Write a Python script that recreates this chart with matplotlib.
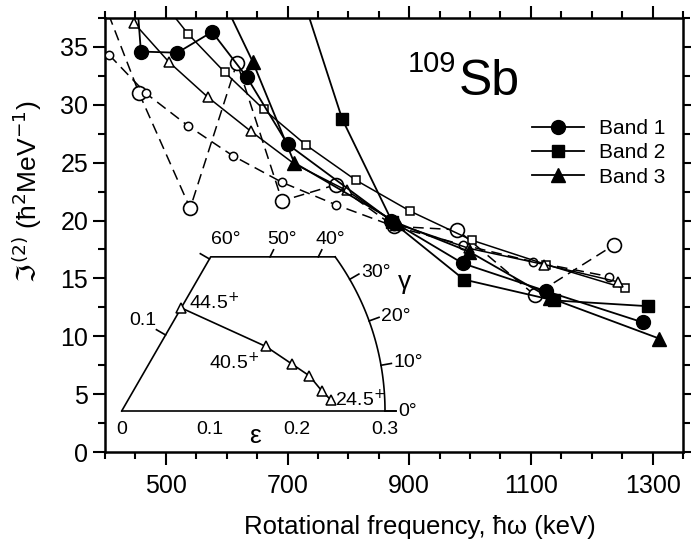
import numpy as np
import matplotlib.pyplot as plt
from matplotlib.ticker import MultipleLocator, FixedLocator

plt.rcParams['font.family'] = ['Liberation Sans', 'DejaVu Sans']
plt.rcParams['mathtext.fontset'] = 'dejavusans'

# experimental bands (filled symbols, solid lines)
band1_w = [452, 459, 519, 576, 633, 700, 870, 988, 1125, 1284]
band1_j = [39.5, 34.6, 34.5, 36.3, 32.4, 26.6, 20.0, 16.3, 13.9, 11.2]
band2_w = [705, 790, 872, 990, 1138, 1292]
band2_j = [42.5, 28.75, 19.9, 14.9, 13.1, 12.6]
band3_w = [580, 643, 711, 880, 999, 1132, 1311]
band3_j = [40.6, 33.7, 25.0, 19.8, 17.3, 13.3, 9.8]

# calculations (open symbols)
sq_w = [490, 537, 597, 661, 731, 812, 902, 1003, 1125, 1254]
sq_j = [39.2, 36.1, 32.8, 29.6, 26.5, 23.5, 20.8, 18.3, 16.2, 14.15]
tri_w = [448, 505, 569, 640, 711, 797, 880, 998, 1122, 1243]
tri_j = [37.05, 33.7, 30.66, 27.7, 24.9, 22.6, 19.7, 17.6, 16.2, 14.7]
small_w = [407, 467, 536, 610, 691, 780, 875, 988, 1103, 1229]
small_j = [34.3, 31.0, 28.2, 25.6, 23.3, 21.35, 19.5, 17.9, 16.45, 15.15]
big_w = [395, 456, 540, 617, 691, 780, 875, 979, 1106, 1237]
big_j = [39.3, 31.0, 21.06, 33.65, 21.7, 23.1, 19.5, 19.2, 13.57, 17.9]

# inset: deformation path in the (eps, gamma) plane
path_eps = [0.1356, 0.180, 0.201, 0.2176, 0.229, 0.2387]
path_gam = [60.0, 24.1, 15.5, 10.6, 5.8, 3.0]
spin_labels = {0: '44.5$^{+}$', 1: '40.5$^{+}$', 5: '24.5$^{+}$'}

EPS_MAX = 0.3
TOP_Y = 0.1756

fig = plt.figure(figsize=(6.91, 5.42), dpi=100)
ax = fig.add_axes([105 / 691, 90 / 542, 578 / 691, 434 / 542])

dash = (0, (7, 4))
ax.plot(big_w, big_j, ls=dash, color='k', lw=1.1, marker='o', ms=10,
        mfc='white', mec='k', mew=1.2, zorder=3)
ax.plot(small_w, small_j, ls=dash, color='k', lw=1.1, marker='o', ms=6,
        mfc='white', mec='k', mew=1.1, zorder=3)
ax.plot(sq_w, sq_j, ls='-', color='k', lw=1.1, marker='s', ms=5.5,
        mfc='white', mec='k', mew=1.1, zorder=3)
ax.plot(tri_w, tri_j, ls='-', color='k', lw=1.1, marker='^', ms=6.5,
        mfc='white', mec='k', mew=1.1, zorder=3)

h1, = ax.plot(band1_w, band1_j, '-', color='k', lw=1.3, marker='o', ms=10,
              label='Band 1', zorder=4)
h2, = ax.plot(band2_w, band2_j, '-', color='k', lw=1.3, marker='s', ms=9,
              label='Band 2', zorder=4)
h3, = ax.plot(band3_w, band3_j, '-', color='k', lw=1.3, marker='^', ms=10,
              label='Band 3', zorder=4)

ax.set_xlim(400, 1350)
ax.set_ylim(0, 37.5)
ax.xaxis.set_major_locator(FixedLocator([500, 700, 900, 1100, 1300]))
ax.xaxis.set_minor_locator(MultipleLocator(50))
ax.yaxis.set_major_locator(MultipleLocator(5))
ax.yaxis.set_minor_locator(MultipleLocator(2.5))
ax.tick_params(which='both', direction='out', top=True, right=True,
               width=1.5, labelsize=18, pad=3)
ax.tick_params(axis='x', which='both', pad=7)
ax.tick_params(which='major', length=9)
ax.tick_params(which='minor', length=5)
for s in ax.spines.values():
    s.set_linewidth(1.8)

ax.set_xlabel('Rotational frequency, ħω (keV)', fontsize=18.5)
ax.xaxis.set_label_coords(0.545, -0.145)
ax.set_ylabel(r'$\Im^{(2)}$ (ħ$^2$MeV$^{-1}$)', fontsize=19)
ax.yaxis.set_label_coords(-0.105, 0.6)

ax.text(0.612, 0.8226, 'Sb', transform=ax.transAxes, fontsize=36,
        ha='left', va='baseline')
ax.text(0.607, 0.876, '109', transform=ax.transAxes, fontsize=21,
        ha='right', va='baseline')

leg = ax.legend(handles=[h1, h2, h3], loc='upper left',
                bbox_to_anchor=(0.739, 0.767), frameon=False, fontsize=15,
                handlelength=2.5, handletextpad=0.7, labelspacing=0.25,
                borderaxespad=0, borderpad=0)

# ---- inset ----
iax = fig.add_axes([121.7 / 691, (542 - 411) / 542, 263.3 / 691, 158 / 542])
iax.set_xlim(0, EPS_MAX)
iax.set_ylim(0, 0.18)
iax.axis('off')


def pol(r, g):
    g = np.radians(g)
    return r * np.cos(g), r * np.sin(g)


kw = dict(color='k', lw=1.2, clip_on=False)
r60 = TOP_Y / np.sin(np.radians(60))
g_end = np.degrees(np.arcsin(TOP_Y / EPS_MAX))
x60, y60 = pol(r60, 60)
xe, ye = pol(EPS_MAX, g_end)
iax.plot([0, x60, xe], [0, y60, ye], **kw)
arc_g = np.linspace(g_end, 0, 60)
ax_, ay_ = pol(EPS_MAX, arc_g)
iax.plot(ax_, ay_, **kw)
iax.plot([0, EPS_MAX + 0.012], [0, 0], **kw)

tl = 0.012
fs = 14
# ticks on the arc
for g in [0, 10, 20, 30]:
    x0, y0 = pol(EPS_MAX, g)
    x1, y1 = pol(EPS_MAX + tl, g)
    iax.plot([x0, x1], [y0, y1], **kw)
    xt, yt = pol(EPS_MAX + tl + 0.003, g)
    iax.text(xt, yt, f'{g}°', fontsize=fs, ha='left', va='center')
# ticks on the 60 degree line
for r in [0.1, 0.2]:
    x0, y0 = pol(r, 60)
    nx, ny = -np.sin(np.radians(60)), np.cos(np.radians(60))
    iax.plot([x0, x0 + tl * nx], [y0, y0 + tl * ny], **kw)
x0, y0 = pol(0.1, 60)
iax.text(x0 - 0.01, y0 + 0.016, '0.1', fontsize=fs, ha='right', va='center')
# ticks on the top edge (drawn where the original places them)
top_tick_x = [0.169, 0.224]
for x0 in top_tick_x:
    iax.plot([x0, x0 + 0.004], [TOP_Y, TOP_Y + 0.008], **kw)
for x0, lab in zip([0.105, 0.169, 0.224], ['60°', '50°', '40°']):
    iax.text(x0 + 0.014, TOP_Y + 0.01, lab, fontsize=fs, ha='center',
             va='bottom')
iax.text(EPS_MAX + 0.015, 0.147, 'γ', fontsize=19, ha='left', va='center')
for e, lab in zip([0, 0.1, 0.2, 0.3], ['0', '0.1', '0.2', '0.3']):
    iax.text(e, -0.011, lab, fontsize=fs, ha='center', va='top')
iax.text(0.152, -0.015, 'ε', fontsize=19, ha='center', va='top')

px, py = pol(np.array(path_eps), np.array(path_gam))
iax.plot(px, py, '-', color='k', lw=1.2, marker='^', ms=7, mfc='white',
         mec='k', mew=1.1, clip_on=False)
offs = {0: (5.5, 4), 1: (-5, -12), 5: (3, 0)}
has = {0: 'left', 1: 'right', 5: 'left'}
for i, lab in spin_labels.items():
    iax.annotate(lab, (px[i], py[i]), xytext=offs[i], textcoords='offset points',
                 fontsize=fs, ha=has[i], va='center')

fig.savefig('out.png', dpi=100)
